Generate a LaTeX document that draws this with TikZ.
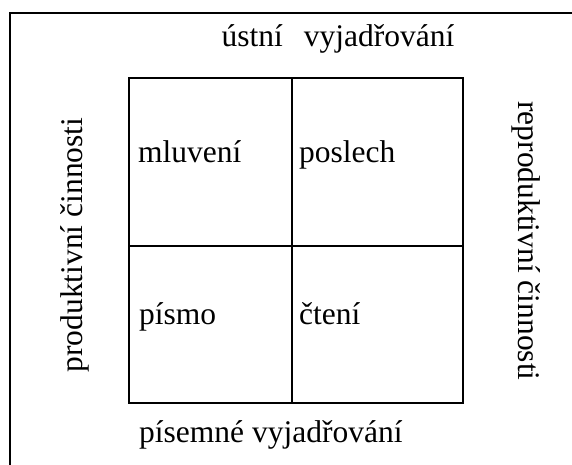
\documentclass[tikz,border=0pt]{standalone}
\usepackage{fontspec}
\setmainfont{Liberation Serif}
\begin{document}
\begin{tikzpicture}[x=1pt,y=-1pt,
  frameline/.style={line width=2pt},
  gridline/.style={line width=2pt},
  lbl/.style={inner sep=0pt,font=\fontsize{31.5}{36}\selectfont}]
\useasboundingbox (0,0) rectangle (572,465);
% open outer frame (top and left edges only)
\coordinate (fbl) at (10,466);
\coordinate (ftl) at (10,13);
\coordinate (ftr) at (573,13);
\draw[frameline] (fbl) -- (ftl) -- (ftr);
% the 2x2 grid
\coordinate (gtl) at (129,78);
\coordinate (gbr) at (463,403);
\coordinate (mt) at (292,78);
\coordinate (mb) at (292,403);
\coordinate (ml) at (129,246);
\coordinate (mr) at (463,246);
\draw[gridline] (gtl) rectangle (gbr);
\draw[gridline] (mt) -- (mb);
\draw[gridline] (ml) -- (mr);
% cell labels
\node[lbl,anchor=base west] (c1) at (138,163) {mluvení};
\node[lbl,anchor=base west] (c2) at (299,163) {poslech};
\node[lbl,anchor=base west] (c3) at (139,324) {písmo};
\node[lbl,anchor=base west] (c4) at (299,324) {čtení};
% axis labels
\node[lbl,anchor=base west] (top) at (221.5,46.5) {ústní\hspace{21pt}vyjadřování};
\node[lbl,anchor=base west] (bot) at (139,442) {písemné vyjadřování};
\node[lbl,anchor=base,rotate=90] (left) at (82,245) {produktivní činnosti};
\node[lbl,anchor=base,rotate=-90] (right) at (518,241) {reproduktivní činnosti};
\end{tikzpicture}
\end{document}
